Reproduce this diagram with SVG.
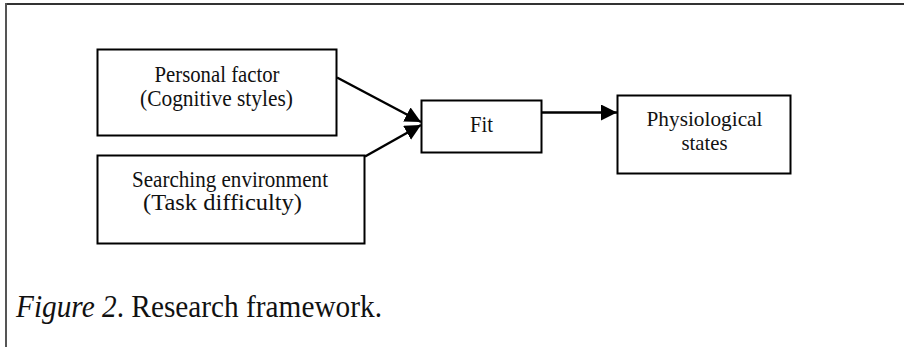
<svg xmlns="http://www.w3.org/2000/svg" width="904" height="347" viewBox="0 0 904 347">
<style>
.box{fill:#fff;stroke:#000;stroke-width:2}
.t{font-family:"Liberation Serif","Times New Roman",serif;font-size:23px;fill:#111;text-anchor:middle}
.ts{font-size:21px}
.cap{font-family:"Liberation Serif","Times New Roman",serif;font-size:31px;fill:#111}
.edge{stroke:#000;stroke-width:2.5;fill:none;marker-end:url(#ah)}
</style>
<defs>
<marker id="ah" markerUnits="userSpaceOnUse" markerWidth="16" markerHeight="16" viewBox="0 0 14 14" refX="14" refY="7" orient="auto">
<path d="M0,0 L14,7 L0,14 Z" fill="#000"/>
</marker>
</defs>
<g id="frame">
<line x1="5" y1="4" x2="904" y2="4" stroke="#333" stroke-width="2"/>
<line x1="6" y1="3" x2="6" y2="347" stroke="#555" stroke-width="2"/>
</g>
<g id="connectors">
<line class="edge" x1="337" y1="77.5" x2="421" y2="122"/>
<line class="edge" x1="365" y1="156.5" x2="421" y2="125"/>
<line class="edge" x1="541.5" y1="112.5" x2="617" y2="112.5"/>
</g>
<g id="personal">
<rect class="box" x="97.5" y="49.5" width="239" height="86"/>
<text class="t" x="217" y="81.5" textLength="125" lengthAdjust="spacingAndGlyphs">Personal factor</text>
<text class="t" x="216.5" y="105.5" textLength="153" lengthAdjust="spacingAndGlyphs">(Cognitive styles)</text>
</g>
<g id="searching">
<rect class="box" x="97.5" y="155.5" width="267" height="88"/>
<text class="t" x="230" y="186.5" textLength="196" lengthAdjust="spacingAndGlyphs">Searching environment</text>
<text class="t" x="222.5" y="210" textLength="159" lengthAdjust="spacingAndGlyphs">(Task difficulty)</text>
</g>
<g id="fit">
<rect class="box" x="421.5" y="100.5" width="120" height="52"/>
<text class="t" x="481.5" y="131.5" textLength="23" lengthAdjust="spacingAndGlyphs">Fit</text>
</g>
<g id="physio">
<rect class="box" x="617.5" y="95.5" width="173" height="78"/>
<text class="t ts" x="704.5" y="126" textLength="116" lengthAdjust="spacingAndGlyphs">Physiological</text>
<text class="t ts" x="704.5" y="149.5" textLength="46" lengthAdjust="spacingAndGlyphs">states</text>
</g>
<g id="caption">
<text class="cap" x="16" y="317" textLength="366" lengthAdjust="spacingAndGlyphs"><tspan font-style="italic">Figure 2</tspan>. Research framework.</text>
</g>
</svg>
